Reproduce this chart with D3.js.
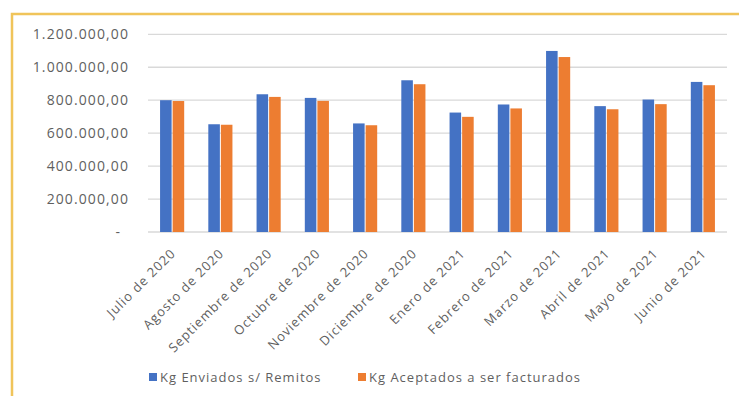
<!DOCTYPE html>
<html>
<head>
<meta charset="utf-8">
<script src="https://cdn.jsdelivr.net/npm/d3@7.9.0/dist/d3.min.js"></script>
<style>
  html, body { margin: 0; padding: 0; background: #fff; }
  svg { display: block; font-family: "Open Sans", "Liberation Sans", sans-serif; }
</style>
</head>
<body>
<svg id="chart" width="739" height="396"></svg>
<script>
// datos
const meses = ['Julio de 2020', 'Agosto de 2020', 'Septiembre de 2020', 'Octubre de 2020',
  'Noviembre de 2020', 'Diciembre de 2020', 'Enero de 2021', 'Febrero de 2021',
  'Marzo de 2021', 'Abril de 2021', 'Mayo de 2021', 'Junio de 2021'];
const enviados = [800000, 654000, 836000, 814000, 659000, 921000, 725000, 774000, 1099000, 764000, 804000, 911000];
const aceptados = [795000, 651000, 820000, 796000, 648000, 897000, 699000, 750000, 1062000, 745000, 776000, 891000];
const series = ['Kg Enviados s/ Remitos', 'Kg Aceptados a ser facturados'];
const yTicks = [0, 200000, 400000, 600000, 800000, 1000000, 1200000];

const colores = d3.scaleOrdinal().domain(series).range(['#4472C4', '#ED7D31']);

const svg = d3.select('#chart');

// marco amarillo
svg.append('rect')
  .attr('x', 12).attr('y', 14)
  .attr('width', 800).attr('height', 500)
  .attr('fill', 'none')
  .attr('stroke', '#F0C45A')
  .attr('stroke-width', 2.5);

const margen = { izq: 148, der: 727, sup: 34.3, inf: 232 };

const x0 = d3.scaleBand().domain(meses).range([margen.izq, margen.der]).padding(0);
const x1 = d3.scaleBand().domain(series)
  .range([x0.bandwidth() * 0.25, x0.bandwidth() * 0.75])
  .paddingInner(0.08);
const y = d3.scaleLinear().domain([0, 1200000]).range([margen.inf, margen.sup]);

const locale = d3.formatLocale({ decimal: ',', thousands: '.', grouping: [3], currency: ['$', ''] });
const fmt = locale.format(',.2f');

// grilla
svg.append('g')
  .selectAll('line')
  .data(yTicks)
  .join('line')
  .attr('x1', margen.izq).attr('x2', margen.der)
  .attr('y1', d => y(d)).attr('y2', d => y(d))
  .attr('stroke', '#d9d9d9')
  .attr('stroke-width', 1.3);

// etiquetas eje y
svg.append('g')
  .selectAll('text')
  .data(yTicks)
  .join('text')
  .attr('x', d => d === 0 ? 121 : 129)
  .attr('y', d => y(d))
  .attr('dy', '0.35em')
  .attr('text-anchor', 'end')
  .attr('fill', '#5f5f5f')
  .style('font-size', '14px')
  .style('letter-spacing', '1.1px')
  .text(d => d === 0 ? '-' : fmt(d));

// barras
const filas = meses.map((m, i) => ({ mes: m, valores: [enviados[i], aceptados[i]] }));

svg.append('g')
  .selectAll('g')
  .data(filas)
  .join('g')
  .attr('transform', d => `translate(${x0(d.mes)},0)`)
  .selectAll('rect')
  .data(d => series.map((s, k) => ({ serie: s, valor: d.valores[k] })))
  .join('rect')
  .attr('x', d => x1(d.serie))
  .attr('y', d => y(d.valor))
  .attr('width', x1.bandwidth())
  .attr('height', d => margen.inf - y(d.valor))
  .attr('fill', d => colores(d.serie));

// etiquetas eje x (rotadas)
svg.append('g')
  .selectAll('text')
  .data(meses)
  .join('text')
  .attr('transform', d => `translate(${x0(d) + x0.bandwidth() / 2 + 1},${margen.inf + 19}) rotate(-45)`)
  .attr('text-anchor', 'end')
  .attr('dy', '0.35em')
  .attr('fill', '#5f5f5f')
  .style('font-size', '13px')
  .style('letter-spacing', '1px')
  .text(d => d);

// leyenda
const leyX = [149, 358];
const ley = svg.append('g')
  .selectAll('g')
  .data(series)
  .join('g')
  .attr('transform', (d, i) => `translate(${leyX[i]},377)`);

ley.append('rect')
  .attr('x', 0).attr('y', -4)
  .attr('width', 8).attr('height', 8)
  .attr('fill', d => colores(d));

ley.append('text')
  .attr('x', 11)
  .attr('dy', '0.35em')
  .attr('fill', '#5f5f5f')
  .style('font-size', '13px')
  .style('letter-spacing', '1px')
  .text(d => d);
</script>
</body>
</html>
